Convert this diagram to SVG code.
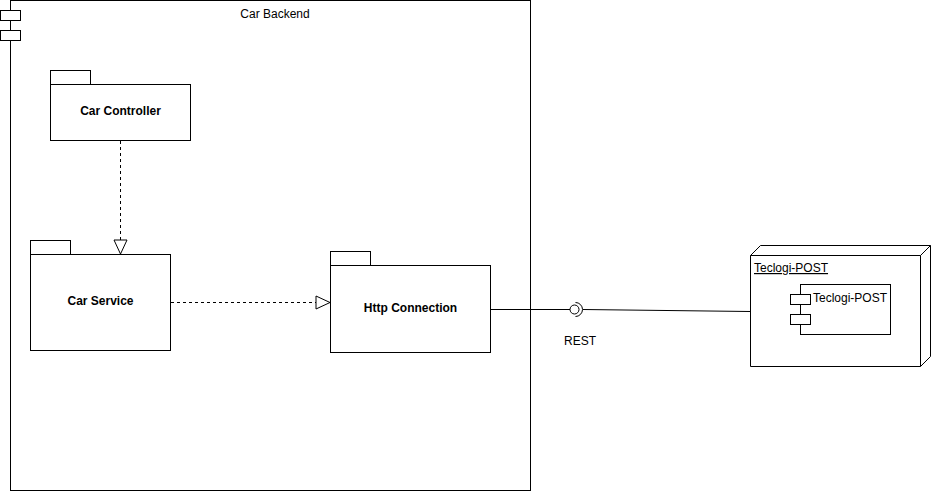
<svg xmlns="http://www.w3.org/2000/svg" width="932" height="492" viewBox="0 0 932 492">
<style>
.s{fill:#fff;stroke:#000;stroke-width:1}
.n{fill:none;stroke:#000;stroke-width:1}
.d{fill:none;stroke:#000;stroke-width:1;stroke-dasharray:3 3}
text{font-family:"Liberation Sans",Arial,sans-serif;font-size:12px;fill:#000}
.b{font-weight:bold;text-anchor:middle}
</style>
<defs>
<marker id="tri" markerWidth="16" markerHeight="16" refX="15" refY="8" orient="auto" markerUnits="userSpaceOnUse">
<path d="M1,1.5 L15,8 L1,14.5 Z" fill="#fff" stroke="#000" stroke-width="1"/>
</marker>
</defs>
<g id="car-backend">
<rect class="s" x="10.5" y="0.5" width="520" height="490"/>
<rect class="s" x="0.5" y="10.5" width="20" height="10"/>
<rect class="s" x="0.5" y="30.5" width="20" height="10"/>
<text x="275" y="18" text-anchor="middle">Car Backend</text>
</g>
<g id="car-controller">
<rect class="s" x="50.5" y="70.5" width="40" height="14"/>
<rect class="s" x="50.5" y="84.5" width="140" height="56"/>
<text class="b" x="120.5" y="115">Car Controller</text>
</g>
<g id="car-service">
<rect class="s" x="30.5" y="240.5" width="40" height="14"/>
<rect class="s" x="30.5" y="254.5" width="140" height="96"/>
<text class="b" x="100.5" y="305">Car Service</text>
</g>
<g id="http-connection">
<rect class="s" x="330.5" y="251.5" width="40" height="14"/>
<rect class="s" x="330.5" y="265.5" width="160" height="87"/>
<text class="b" x="410.5" y="312">Http Connection</text>
</g>
<g id="teclogi-node">
<path class="s" d="M750.5,255.5 L760.5,245.5 L930.5,245.5 L930.5,356.5 L920.5,366.5 L750.5,366.5 Z"/>
<path class="n" d="M750.5,255.5 L920.5,255.5 L930.5,245.5 M920.5,255.5 L920.5,366.5"/>
<text x="754" y="272" text-decoration="underline">Teclogi-POST</text>
</g>
<g id="teclogi-component">
<rect class="s" x="800.5" y="284.5" width="90" height="50"/>
<rect class="s" x="790.5" y="294.5" width="20" height="10"/>
<rect class="s" x="790.5" y="314.5" width="20" height="10"/>
<text x="813" y="302">Teclogi-POST</text>
</g>
<g id="connectors">
<line class="d" x1="120.5" y1="141" x2="120.5" y2="254" marker-end="url(#tri)"/>
<line class="d" x1="171" y1="302.5" x2="330" y2="302.5" marker-end="url(#tri)"/>
<line class="n" x1="491" y1="309.5" x2="570" y2="309.5"/>
<circle class="s" cx="574.5" cy="309.5" r="4.5"/>
<path class="n" d="M575.5,302.5 A7,7 0 0 1 575.5,316.5"/>
<line class="n" x1="583" y1="309.5" x2="750" y2="311.5"/>
<text x="580" y="345" text-anchor="middle">REST</text>
</g>
</svg>
